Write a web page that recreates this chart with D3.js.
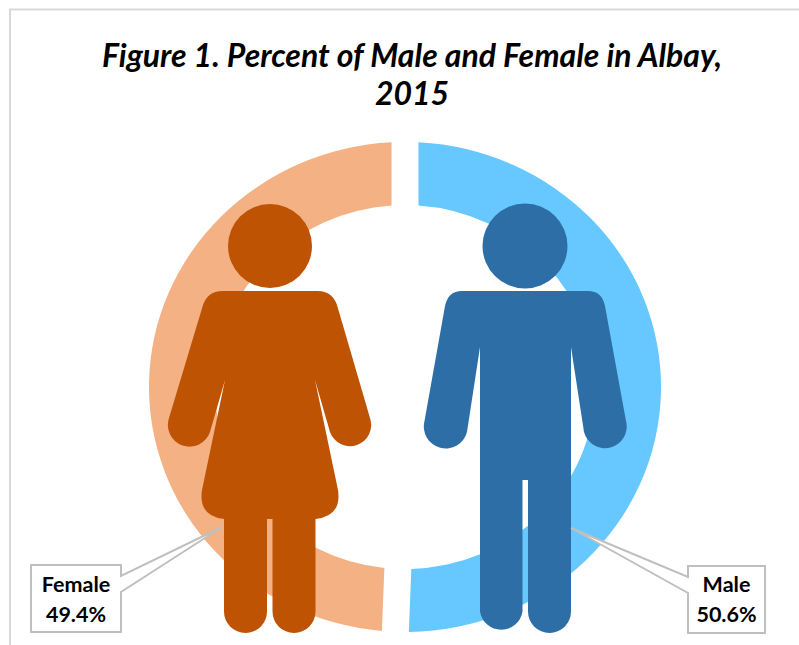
<!DOCTYPE html>
<html>
<head>
<meta charset="utf-8">
<script src="https://cdnjs.cloudflare.com/ajax/libs/d3/7.8.5/d3.min.js"></script>
<style>
html,body{margin:0;padding:0;background:#fff}
svg{display:block}
</style>
</head>
<body>
<script>
const categories = ["Male", "Female"];
const values = [50.6, 49.4];
const ringColors = ["#66C8FF", "#F4B183"];
const figureColors = ["#2E6EA6", "#BF5304"];
const titleLines = ["Figure 1. Percent of Male and Female in Albay,", "2015"];

const W = 799, H = 645;
const svg = d3.select("body").append("svg").attr("width", W).attr("height", H);

// chart frame (left and top edges visible)
svg.append("path").attr("d", `M10,${H}V9.5H${W}`).attr("fill", "none")
  .attr("stroke", "#D9D9D9").attr("stroke-width", 2);

// title
svg.append("g").selectAll("text").data(titleLines).join("text")
  .attr("x", 412).attr("y", (d, i) => 66.500 + i * 38.500)
  .attr("text-anchor", "middle")
  .attr("font-family", "Lato, 'Open Sans', sans-serif")
  .attr("font-weight", 700).attr("font-style", "italic").attr("font-size", 32)
  .attr("fill", "#000").text(d => d);

// ring
const outerR = 245, innerR = 182;
const pie = d3.pie().sort(null).value(d => d)(values);
const arc = d3.arc().innerRadius(innerR).outerRadius(outerR)
  .padRadius(outerR).padAngle(2 * Math.asin(12.9 / outerR));
svg.append("g").attr("transform", "translate(405,387) scale(1.045,1)")
  .selectAll("path").data(pie).join("path")
  .attr("d", arc).attr("fill", (d, i) => ringColors[i]);

// pictograms
const figureShapes = {
  Male: {
    head: [525, 246, 42.5],
    body: "M462,291H588Q602,291 605,306L626,421A21.5,21.5 0 0 1 584,432L571,347V611.5A21.5,21.5 0 0 1 528,611.5V480H522.5V611.5A21.5,21.5 0 0 1 480,611.5V347L467,432A21.5,21.5 0 0 1 424.500,421L445,306Q448,291 462,291Z"
  },
  Female: {
    head: [270, 246, 42],
    body: "M222,291H318Q332,291 337,305L370,418A21,21 0 0 1 330,432L315,380L338,490Q342,516 315.500,519V611.500A21.500,21.500 0 0 1 272.500,611.500V519H267V611.500A21.500,21.500 0 0 1 224,611.500V519Q198,516 202,490L225,380L210,432A21,21 0 0 1 169,418L203,305Q208,291 222,291Z"
  }
};
const people = svg.append("g").selectAll("g").data(categories).join("g")
  .attr("fill", (d, i) => figureColors[i]);
people.append("circle")
  .attr("cx", d => figureShapes[d].head[0])
  .attr("cy", d => figureShapes[d].head[1])
  .attr("r", d => figureShapes[d].head[2]);
people.append("path").attr("d", d => figureShapes[d].body);

// callouts
const calloutShapes = {
  Male: {cx: 726.5, path: "M688,566H765V633H688V593L571,528L688,577Z"},
  Female: {cx: 76, path: "M31,565H121V576L222,527L121,592V632H31Z"}
};
const callouts = svg.append("g").selectAll("g").data(categories).join("g");
callouts.append("path").attr("d", d => calloutShapes[d].path)
  .attr("fill", "#fff").attr("stroke", "#BFBFBF").attr("stroke-width", 2);
const fmt = d3.format(".1f");
const labelStyle = s => s.attr("text-anchor", "middle")
  .attr("font-family", "Lato, 'Open Sans', sans-serif")
  .attr("font-weight", 700).attr("font-size", 21.5).attr("fill", "#000");
callouts.append("text").call(labelStyle)
  .attr("x", d => calloutShapes[d].cx).attr("y", 592).text(d => d);
callouts.append("text").call(labelStyle)
  .attr("x", d => calloutShapes[d].cx).attr("y", 622)
  .text((d, i) => fmt(values[i]) + "%");
</script>
</body>
</html>
